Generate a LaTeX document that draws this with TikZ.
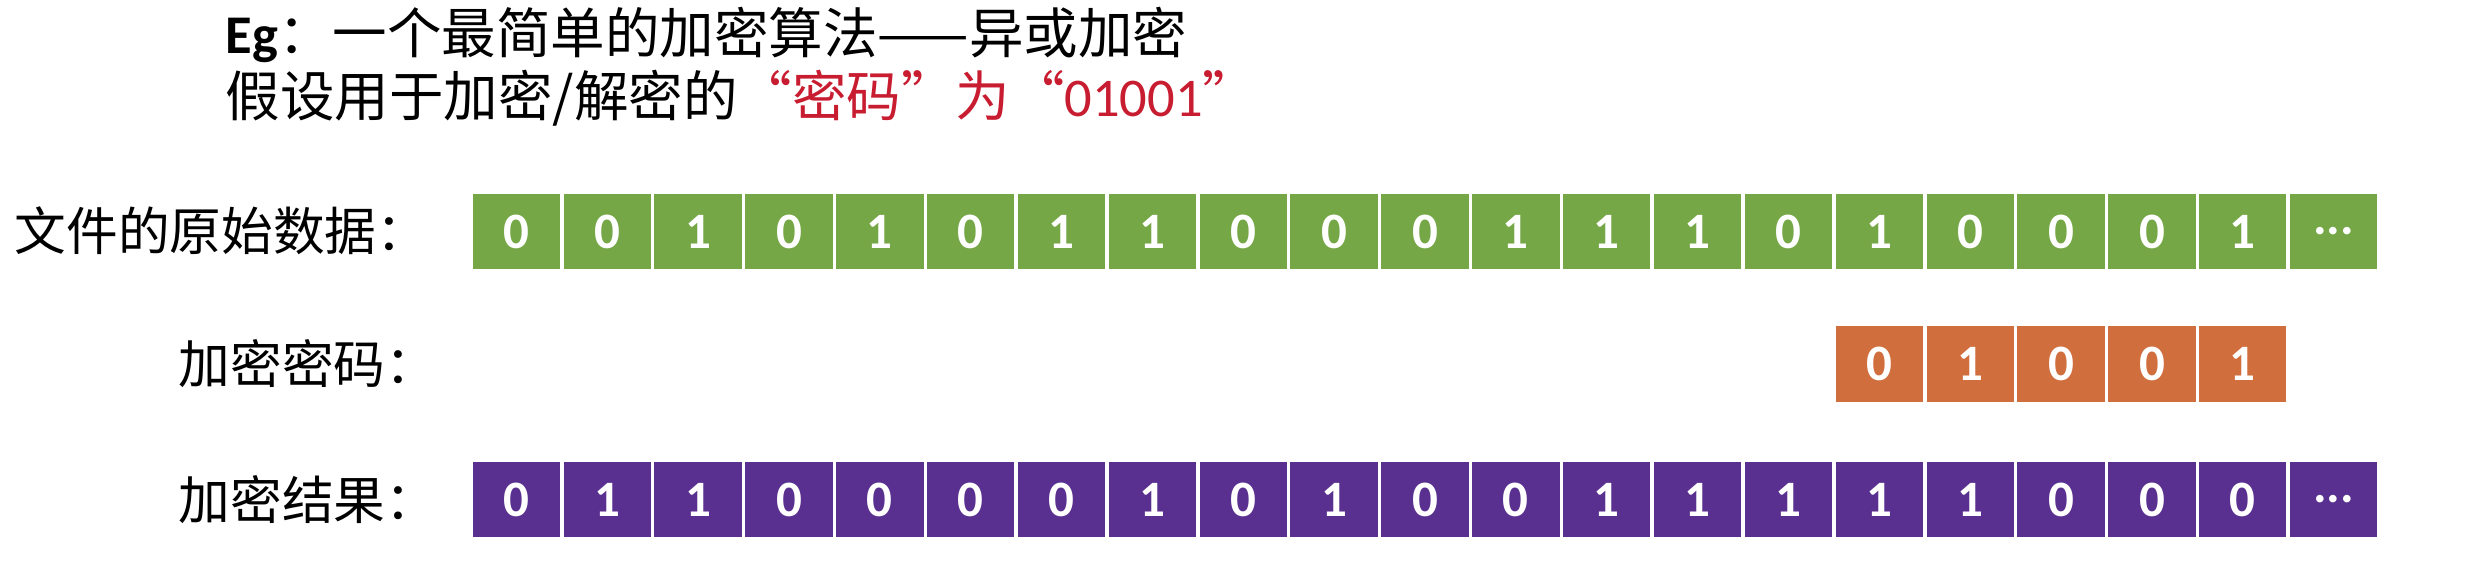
\documentclass[tikz,border=0pt]{standalone}
\usepackage{fontspec}
\setmainfont{Carlito}
\newfontfamily\cjk{Noto Sans CJK SC}
\usepackage{xcolor}
\definecolor{datagreen}{RGB}{117, 167, 70}
\definecolor{keyorange}{RGB}{209, 110, 62}
\definecolor{resultpurple}{RGB}{89, 48, 143}
\definecolor{keyred}{RGB}{200, 28, 48}
\usepackage{tikz}
\usetikzlibrary{positioning}

\begin{document}
\begin{tikzpicture}[x=0.01cm, y=-0.01cm,
    every node/.style={font=\fontsize{15.5pt}{18pt}\selectfont, inner sep=0pt},
    bitcell/.style={rectangle, draw=white, line width=1pt, outer sep=0pt, minimum width=0.9086cm, minimum height=0.79cm, text=white, font=\fontsize{14.5pt}{16pt}\selectfont\bfseries},
    rowlabel/.style={anchor=west, font=\fontsize{14.7pt}{18pt}\selectfont\cjk}]
    \useasboundingbox (0,0) rectangle (2472,571);

    % Title
    \node[anchor=west] (title) at (225,35) {\textbf{Eg}\cjk：一个最简单的加密算法——异或加密};
    \node[anchor=west] (keyline) at (225,98) {\cjk 假设用于加密/解密的\textcolor{keyred}{“密码”为“{\rmfamily 01001}”}};

    % Original data
    \node[rowlabel] (datalabel) at (14,231) {文件的原始数据：};
    \foreach \b [count=\i] in {0,0,1,0,1,0,1,1,0,0,0,1,1,1,0,1,0,0,0,1}
        \node[bitcell, fill=datagreen] (d\i) at ({471+(\i-0.5)*90.86},231.5) {\b};
    \node[bitcell, fill=datagreen, right=0pt of d20] (d21) {...};

    % Key
    \node[rowlabel] (keylabel) at (178,364) {加密密码：};
    \foreach \b [count=\i] in {0,1,0,0,1}
        \node[bitcell, fill=keyorange] (k\i) at ({471+(\i+14.5)*90.86},364) {\b};

    % Result
    \node[rowlabel] (resultlabel) at (178,500) {加密结果：};
    \foreach \b [count=\i] in {0,1,1,0,0,0,0,1,0,1,0,0,1,1,1,1,1,0,0,0}
        \node[bitcell, fill=resultpurple] (r\i) at ({471+(\i-0.5)*90.86},499.5) {\b};
    \node[bitcell, fill=resultpurple, right=0pt of r20] (r21) {...};
\end{tikzpicture}
\end{document}
